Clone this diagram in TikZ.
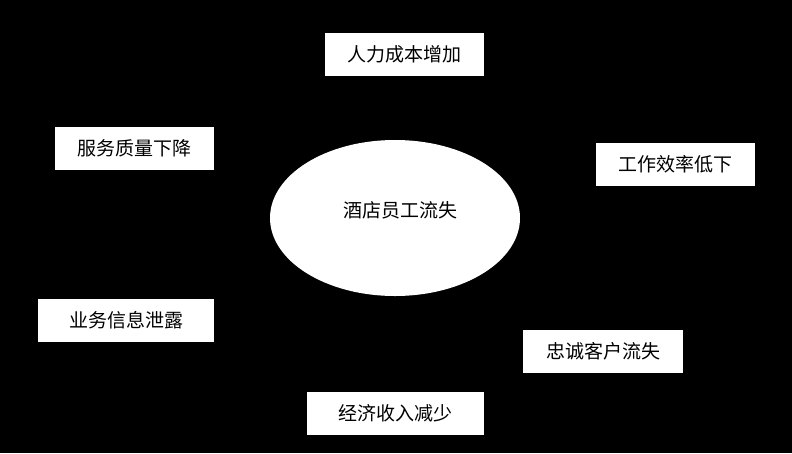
\documentclass[tikz,border=0pt]{standalone}
\usepackage{fontspec}
\usetikzlibrary{shapes.geometric}
\newfontfamily\cjk{Noto Sans CJK SC}
\begin{document}
\begin{tikzpicture}[
        x=1pt, y=-1pt,
        box/.style={draw=none, fill=white, minimum height=43pt, inner sep=0pt, font=\cjk\fontsize{19}{22}\selectfont},
        core/.style={ellipse, fill=white, minimum width=250pt, minimum height=156pt, inner sep=0pt, font=\cjk\fontsize{19}{22}\selectfont},
    ]
    \fill[black] (0,0) rectangle (792,453);
    \useasboundingbox (0,0) rectangle (792,453);

    \node[core] (hotel) at (395,218) {};
    \node[font=\cjk\fontsize{19}{22}\selectfont] (hoteltext) at (400,210) {酒店员工流失};

    \node[box, minimum width=159pt] (cost) at (404.5,54.5) {人力成本增加};
    \node[box, minimum width=159pt] (service) at (134.5,148.5) {服务质量下降};
    \node[box, minimum width=159pt] (work) at (675.5,164) {工作效率低下};
    \node[box, minimum width=176pt] (info) at (126,320) {业务信息泄露};
    \node[box, minimum width=160pt] (client) at (603,351) {忠诚客户流失};
    \node[box, minimum width=177pt] (income) at (395.5,413) {经济收入减少};
\end{tikzpicture}
\end{document}
